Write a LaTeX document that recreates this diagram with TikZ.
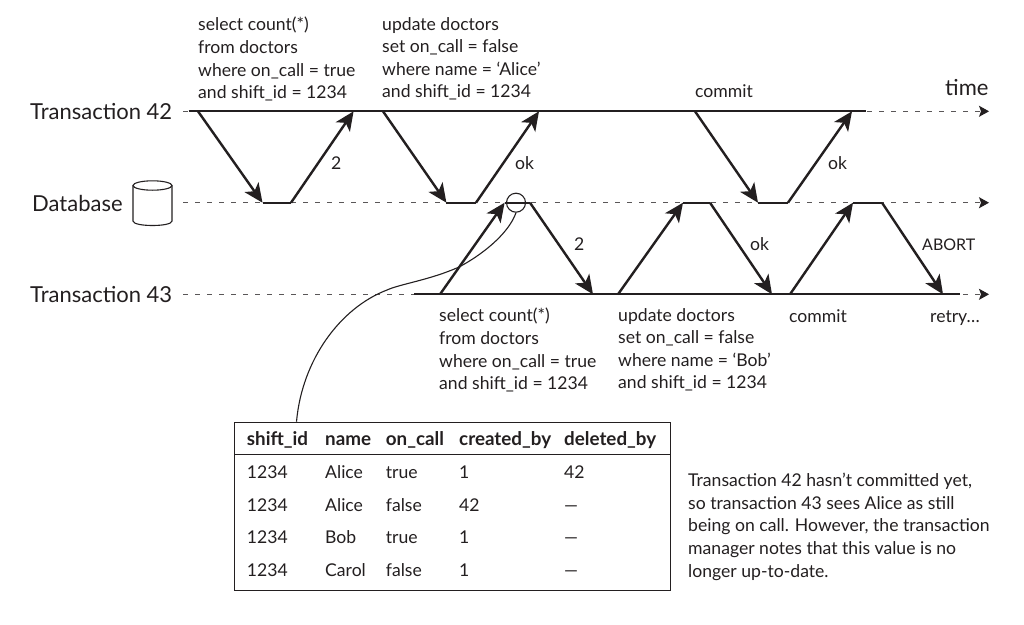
\documentclass[tikz,border=0pt]{standalone}
\usepackage{fontspec}
\setmainfont{Lato}
\usetikzlibrary{arrows.meta}
\definecolor{ink}{HTML}{231F20}
\tikzset{
  lab/.style={inner sep=0pt,anchor=base west,text=ink,font=\fontsize{17.6pt}{22.6pt}\selectfont},
  big/.style={inner sep=0pt,anchor=base west,text=ink,font=\fontsize{22pt}{26pt}\selectfont},
  blocktext/.style={inner sep=0pt,anchor=north west,align=left,text=ink,font=\fontsize{17.6pt}{22.6pt}\selectfont},
  cell/.style={inner sep=0pt,anchor=base west,text=ink,font=\fontsize{17.6pt}{20pt}\selectfont},
  head/.style={cell,font=\fontsize{18.8pt}{20pt}\selectfont\bfseries},
  tl/.style={draw=ink!75,line width=1.1pt,dash pattern=on 5pt off 7pt,-{Stealth[length=10pt,width=11pt,inset=2pt,color=ink]}},
  solidline/.style={draw=ink,line width=2.2pt},
  msg/.style={draw=ink,line width=2.4pt,-{Stealth[length=19pt,width=17pt,inset=5pt]}},
  flat/.style={draw=ink,line width=2.4pt},
}
\begin{document}
\begin{tikzpicture}[x=1pt,y=-1pt]
\useasboundingbox (0,0) rectangle (1024,624);
\fill[white] (0,0) rectangle (1024,624);
% time lines
\node[big] (t42) at (30,119.5) {Transaction 42};
\node[big] (db) at (32,211) {Database};
\node[big] (t43) at (30,302) {Transaction 43};
\node[big] (time) at (945,95) {time};
\coordinate (a0) at (183,111.3); \coordinate (a1) at (989,111.3);
\coordinate (b0) at (183,202.7); \coordinate (b1) at (989,202.7);
\coordinate (c0) at (183,294.3); \coordinate (c1) at (989,294.3);
\draw[tl] (a0)--(a1);
\draw[tl] (b0)--(b1);
\draw[tl] (c0)--(c1);
\coordinate (as) at (188.6,111.3); \coordinate (ae) at (866,111.3);
\coordinate (cs) at (414,294.3); \coordinate (ce) at (960,294.3);
\draw[solidline] (as)--(ae);
\draw[solidline] (cs)--(ce);
% cylinder
\draw[ink,line width=1.1pt,fill=white] (133,185.5) -- (133,221) .. controls (133,227) and (172,227) .. (172,221) -- (172,185.5);
\draw[ink,line width=1.1pt,fill=white] (152.5,185.5) ellipse[x radius=19.5pt,y radius=4.7pt];
% T42 requests
\foreach \n/\p/\q/\r/\s in {p/198/262.5/291/353.6, q/383/446.4/476/539, r/695/758/788/852}{
  \coordinate (\n1) at (\p,111.3);
  \coordinate (\n2) at (\q,202.7);
  \coordinate (\n3) at (\r,202.7);
  \coordinate (\n4) at (\s,111.3);
  \draw[msg] (\n1)--(\n2);
  \draw[flat] (\n2)--(\n3);
  \draw[msg] (\n3)--(\n4);
}
% T43 requests
\foreach \n/\p/\q/\r/\s in {u/440/504.6/530/593, v/618/683/710/772, w/790/853/882/943}{
  \coordinate (\n1) at (\p,294.3);
  \coordinate (\n2) at (\q,202.7);
  \coordinate (\n3) at (\r,202.7);
  \coordinate (\n4) at (\s,294.3);
  \draw[msg] (\n1)--(\n2);
  \draw[flat] (\n2)--(\n3);
  \draw[msg] (\n3)--(\n4);
}
% table
\node[draw=ink,line width=1.1pt,minimum width=436pt,minimum height=168.3pt,inner sep=0pt,anchor=north west] (tbl) at (234,421.7) {};
\coordinate (h0) at (234,454.3); \coordinate (h1) at (670,454.3);
\draw[ink,line width=1.1pt] (h0)--(h1);
% circle and leader
\node[draw=ink,line width=1.1pt,circle,minimum size=19pt,inner sep=0pt] (mark) at (516,202.7) {};
\coordinate (tt) at (296.5,421.7);
\draw[ink,line width=1.1pt] (mark.south) .. controls (508,235) and (480,256) .. (459,267)
  .. controls (430,280) and (400,284) .. (387,290)
  .. controls (340,308) and (302,360) .. (tt);
% text blocks
\node[blocktext] (s1) at (198,17) {select count(*)\\from doctors\\where on\_call = true\\and shift\_id = 1234};
\node[blocktext] (s2) at (382,17) {update doctors\\set on\_call = false\\where name = ‘Alice’\\and shift\_id = 1234};
\node[lab] (c1t) at (695,97) {commit};
\node[blocktext] (s3) at (439,308) {select count(*)\\from doctors\\where on\_call = true\\and shift\_id = 1234};
\node[blocktext] (s4) at (618,308) {update doctors\\set on\_call = false\\where name = ‘Bob’\\and shift\_id = 1234};
\node[lab] (c2t) at (789,322) {commit};
\node[lab] (retry) at (930,322) {retry…};
\node[lab] (l1) at (331,169) {2};
\node[lab] (l2) at (515,169) {ok};
\node[lab] (l3) at (828,169) {ok};
\node[lab] (l4) at (574,250) {2};
\node[lab] (l5) at (750,250) {ok};
\node[lab,font=\fontsize{16pt}{20pt}\selectfont] (l6) at (922,250) {ABORT};
% table text
\foreach \i/\y/\A/\B/\C/\D/\E in {1/478/1234/Alice/true/1/42, 2/511/1234/Alice/false/42/—, 3/543/1234/Bob/true/1/—, 4/576/1234/Carol/false/1/—}{
  \node[cell] (ca\i) at (246.7,\y) {\A};
  \node[cell] (cb\i) at (325,\y) {\B};
  \node[cell] (cc\i) at (385.7,\y) {\C};
  \node[cell] (cd\i) at (459,\y) {\D};
  \node[cell] (ce\i) at (564,\y) {\E};
}
\node[head] (ha) at (246.7,445) {shift\_id};
\node[head] (hb) at (325,445) {name};
\node[head] (hc) at (385.7,445) {on\_call};
\node[head] (hd) at (459,445) {created\_by};
\node[head] (he) at (564,445) {deleted\_by};
\node[blocktext] (note) at (688,473) {Transaction 42 hasn’t committed yet,\\so transaction 43 sees Alice as still\\being on call. However, the transaction\\manager notes that this value is no\\longer up-to-date.};
\end{tikzpicture}
\end{document}
